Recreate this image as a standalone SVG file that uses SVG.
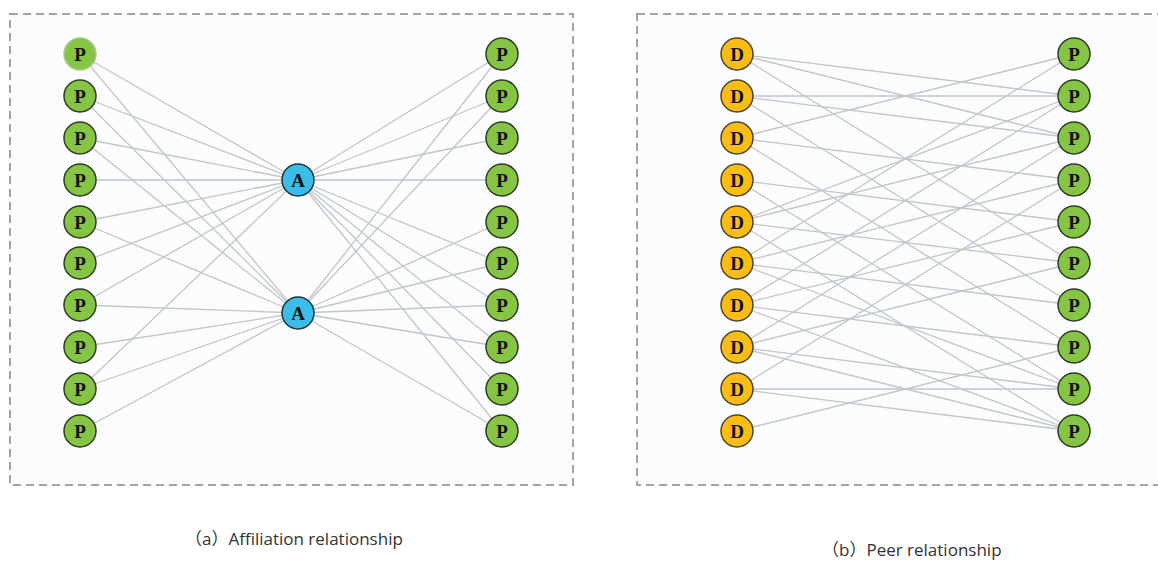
<svg xmlns="http://www.w3.org/2000/svg" width="1158" height="561" viewBox="0 0 1158 561">
<style>
.panel{fill:#fbfcfd;stroke:#a3a3a3;stroke-width:2;stroke-dasharray:8 5}
.edges line{stroke:#c2c6c8;stroke-width:1.3}
.p{fill:#86c444;stroke:#2f3a26;stroke-width:1.5}
.a{fill:#3cbde9;stroke:#1d3440;stroke-width:1.5}
.d{fill:#fbbd14;stroke:#4a4530;stroke-width:1.5}
.lbl{font-family:"Liberation Serif",serif;font-weight:bold;font-size:19px;fill:#111;text-anchor:middle}
.cap{font-family:"Open Sans","Noto Sans CJK SC",sans-serif;font-size:17px;fill:#333}
</style>
<rect class="panel" x="10" y="14" width="563" height="471"/>
<rect class="panel" x="637" y="14" width="540" height="471"/>
<g class="edges" id="edges-a">
<line x1="80" y1="54" x2="298" y2="180"/>
<line x1="80" y1="96" x2="298" y2="180"/>
<line x1="80" y1="138" x2="298" y2="180"/>
<line x1="80" y1="180" x2="298" y2="180"/>
<line x1="80" y1="222" x2="298" y2="180"/>
<line x1="80" y1="263" x2="298" y2="180"/>
<line x1="80" y1="305" x2="298" y2="180"/>
<line x1="80" y1="389" x2="298" y2="180"/>
<line x1="80" y1="54" x2="298" y2="313"/>
<line x1="80" y1="96" x2="298" y2="313"/>
<line x1="80" y1="138" x2="298" y2="313"/>
<line x1="80" y1="222" x2="298" y2="313"/>
<line x1="80" y1="305" x2="298" y2="313"/>
<line x1="80" y1="347" x2="298" y2="313"/>
<line x1="80" y1="389" x2="298" y2="313"/>
<line x1="80" y1="431" x2="298" y2="313"/>
<line x1="298" y1="180" x2="502" y2="54"/>
<line x1="298" y1="180" x2="502" y2="96"/>
<line x1="298" y1="180" x2="502" y2="138"/>
<line x1="298" y1="180" x2="502" y2="180"/>
<line x1="298" y1="180" x2="502" y2="263"/>
<line x1="298" y1="180" x2="502" y2="305"/>
<line x1="298" y1="180" x2="502" y2="347"/>
<line x1="298" y1="180" x2="502" y2="389"/>
<line x1="298" y1="180" x2="502" y2="431"/>
<line x1="298" y1="313" x2="502" y2="54"/>
<line x1="298" y1="313" x2="502" y2="96"/>
<line x1="298" y1="313" x2="502" y2="222"/>
<line x1="298" y1="313" x2="502" y2="263"/>
<line x1="298" y1="313" x2="502" y2="305"/>
<line x1="298" y1="313" x2="502" y2="347"/>
<line x1="298" y1="313" x2="502" y2="431"/>
</g>
<g class="edges" id="edges-b">
<line x1="737" y1="54" x2="1074" y2="96"/>
<line x1="737" y1="54" x2="1074" y2="138"/>
<line x1="737" y1="54" x2="1074" y2="263"/>
<line x1="737" y1="96" x2="1074" y2="96"/>
<line x1="737" y1="96" x2="1074" y2="138"/>
<line x1="737" y1="96" x2="1074" y2="305"/>
<line x1="737" y1="138" x2="1074" y2="54"/>
<line x1="737" y1="138" x2="1074" y2="180"/>
<line x1="737" y1="138" x2="1074" y2="347"/>
<line x1="737" y1="180" x2="1074" y2="222"/>
<line x1="737" y1="180" x2="1074" y2="389"/>
<line x1="737" y1="222" x2="1074" y2="96"/>
<line x1="737" y1="222" x2="1074" y2="138"/>
<line x1="737" y1="222" x2="1074" y2="263"/>
<line x1="737" y1="222" x2="1074" y2="431"/>
<line x1="737" y1="263" x2="1074" y2="54"/>
<line x1="737" y1="263" x2="1074" y2="180"/>
<line x1="737" y1="263" x2="1074" y2="305"/>
<line x1="737" y1="263" x2="1074" y2="389"/>
<line x1="737" y1="305" x2="1074" y2="96"/>
<line x1="737" y1="305" x2="1074" y2="222"/>
<line x1="737" y1="305" x2="1074" y2="347"/>
<line x1="737" y1="305" x2="1074" y2="431"/>
<line x1="737" y1="347" x2="1074" y2="138"/>
<line x1="737" y1="347" x2="1074" y2="263"/>
<line x1="737" y1="347" x2="1074" y2="389"/>
<line x1="737" y1="347" x2="1074" y2="431"/>
<line x1="737" y1="389" x2="1074" y2="180"/>
<line x1="737" y1="389" x2="1074" y2="389"/>
<line x1="737" y1="389" x2="1074" y2="431"/>
<line x1="737" y1="431" x2="1074" y2="347"/>
</g>
<g id="a-left-p">
<g id="pl0"><circle cx="80" cy="54" r="16" class="p" style="stroke:#a9c98a"/><text x="80" y="60.5" class="lbl">P</text></g>
<g id="pl1"><circle cx="80" cy="96" r="16" class="p"/><text x="80" y="102.5" class="lbl">P</text></g>
<g id="pl2"><circle cx="80" cy="138" r="16" class="p"/><text x="80" y="144.5" class="lbl">P</text></g>
<g id="pl3"><circle cx="80" cy="180" r="16" class="p"/><text x="80" y="186.5" class="lbl">P</text></g>
<g id="pl4"><circle cx="80" cy="222" r="16" class="p"/><text x="80" y="228.5" class="lbl">P</text></g>
<g id="pl5"><circle cx="80" cy="263" r="16" class="p"/><text x="80" y="269.5" class="lbl">P</text></g>
<g id="pl6"><circle cx="80" cy="305" r="16" class="p"/><text x="80" y="311.5" class="lbl">P</text></g>
<g id="pl7"><circle cx="80" cy="347" r="16" class="p"/><text x="80" y="353.5" class="lbl">P</text></g>
<g id="pl8"><circle cx="80" cy="389" r="16" class="p"/><text x="80" y="395.5" class="lbl">P</text></g>
<g id="pl9"><circle cx="80" cy="431" r="16" class="p"/><text x="80" y="437.5" class="lbl">P</text></g>
</g>
<g id="a-hubs">
<g id="a1"><circle cx="298" cy="180" r="16" class="a"/><text x="298" y="186.5" class="lbl">A</text></g>
<g id="a2"><circle cx="298" cy="313" r="16" class="a"/><text x="298" y="319.5" class="lbl">A</text></g>
</g>
<g id="a-right-p">
<g id="pr0"><circle cx="502" cy="54" r="16" class="p"/><text x="502" y="60.5" class="lbl">P</text></g>
<g id="pr1"><circle cx="502" cy="96" r="16" class="p"/><text x="502" y="102.5" class="lbl">P</text></g>
<g id="pr2"><circle cx="502" cy="138" r="16" class="p"/><text x="502" y="144.5" class="lbl">P</text></g>
<g id="pr3"><circle cx="502" cy="180" r="16" class="p"/><text x="502" y="186.5" class="lbl">P</text></g>
<g id="pr4"><circle cx="502" cy="222" r="16" class="p"/><text x="502" y="228.5" class="lbl">P</text></g>
<g id="pr5"><circle cx="502" cy="263" r="16" class="p"/><text x="502" y="269.5" class="lbl">P</text></g>
<g id="pr6"><circle cx="502" cy="305" r="16" class="p"/><text x="502" y="311.5" class="lbl">P</text></g>
<g id="pr7"><circle cx="502" cy="347" r="16" class="p"/><text x="502" y="353.5" class="lbl">P</text></g>
<g id="pr8"><circle cx="502" cy="389" r="16" class="p"/><text x="502" y="395.5" class="lbl">P</text></g>
<g id="pr9"><circle cx="502" cy="431" r="16" class="p"/><text x="502" y="437.5" class="lbl">P</text></g>
</g>
<g id="b-d">
<g id="d0"><circle cx="737" cy="54" r="16" class="d"/><text x="737" y="60.5" class="lbl">D</text></g>
<g id="d1"><circle cx="737" cy="96" r="16" class="d"/><text x="737" y="102.5" class="lbl">D</text></g>
<g id="d2"><circle cx="737" cy="138" r="16" class="d"/><text x="737" y="144.5" class="lbl">D</text></g>
<g id="d3"><circle cx="737" cy="180" r="16" class="d"/><text x="737" y="186.5" class="lbl">D</text></g>
<g id="d4"><circle cx="737" cy="222" r="16" class="d"/><text x="737" y="228.5" class="lbl">D</text></g>
<g id="d5"><circle cx="737" cy="263" r="16" class="d"/><text x="737" y="269.5" class="lbl">D</text></g>
<g id="d6"><circle cx="737" cy="305" r="16" class="d"/><text x="737" y="311.5" class="lbl">D</text></g>
<g id="d7"><circle cx="737" cy="347" r="16" class="d"/><text x="737" y="353.5" class="lbl">D</text></g>
<g id="d8"><circle cx="737" cy="389" r="16" class="d"/><text x="737" y="395.5" class="lbl">D</text></g>
<g id="d9"><circle cx="737" cy="431" r="16" class="d"/><text x="737" y="437.5" class="lbl">D</text></g>
</g>
<g id="b-p">
<g id="pb0"><circle cx="1074" cy="54" r="16" class="p"/><text x="1074" y="60.5" class="lbl">P</text></g>
<g id="pb1"><circle cx="1074" cy="96" r="16" class="p"/><text x="1074" y="102.5" class="lbl">P</text></g>
<g id="pb2"><circle cx="1074" cy="138" r="16" class="p"/><text x="1074" y="144.5" class="lbl">P</text></g>
<g id="pb3"><circle cx="1074" cy="180" r="16" class="p"/><text x="1074" y="186.5" class="lbl">P</text></g>
<g id="pb4"><circle cx="1074" cy="222" r="16" class="p"/><text x="1074" y="228.5" class="lbl">P</text></g>
<g id="pb5"><circle cx="1074" cy="263" r="16" class="p"/><text x="1074" y="269.5" class="lbl">P</text></g>
<g id="pb6"><circle cx="1074" cy="305" r="16" class="p"/><text x="1074" y="311.5" class="lbl">P</text></g>
<g id="pb7"><circle cx="1074" cy="347" r="16" class="p"/><text x="1074" y="353.5" class="lbl">P</text></g>
<g id="pb8"><circle cx="1074" cy="389" r="16" class="p"/><text x="1074" y="395.5" class="lbl">P</text></g>
<g id="pb9"><circle cx="1074" cy="431" r="16" class="p"/><text x="1074" y="437.5" class="lbl">P</text></g>
</g>
<text class="cap" x="185" y="545">（a）Affiliation relationship</text>
<text class="cap" x="822" y="556">（b）Peer relationship</text>
</svg>
